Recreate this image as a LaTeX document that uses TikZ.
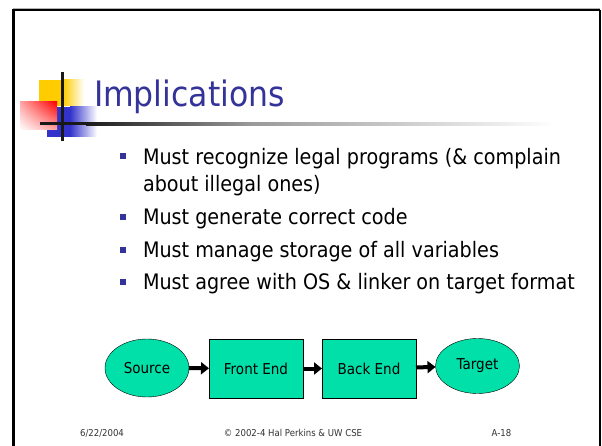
\documentclass[tikz,border=0pt]{standalone}
\usepackage{fontspec}
\setmainfont{DejaVu Sans}[FakeStretch=0.9]
\usetikzlibrary{arrows.meta,shapes.geometric,shadings}
\definecolor{titleblue}{HTML}{333399}
\definecolor{logoyellow}{HTML}{FFCC00}
\definecolor{logoblue}{HTML}{3333CC}
\definecolor{boxgreen}{HTML}{00E0A8}
\definecolor{footgray}{HTML}{333333}
\begin{document}
\begin{tikzpicture}[x = 1pt, y = -1pt,
                    every node/.style = {inner sep = 0pt, outer sep = 0pt},
                    item/.style = {anchor = base west, font = \fontsize{21.3}{25}\selectfont},
                    dot/.style = {fill = titleblue, minimum size = 6pt},
                    oval/.style = {ellipse, draw, fill = boxgreen, minimum width = 84pt, minimum height = 58pt, font = \fontsize{15}{18}\selectfont},
                    stage/.style = {rectangle, draw, fill = boxgreen, minimum width = 94pt, minimum height = 59pt, font = \fontsize{15}{18}\selectfont},
                    flow/.style = {-{Triangle[length = 8pt, width = 12pt]}, line width = 4pt},
                    foot/.style = {font = \fontsize{9.5}{11}\selectfont, text = footgray}]
                    \useasboundingbox (0, 0) rectangle (602, 446);
                    \fill[white] (0, 0) rectangle (602, 446);
                    
                    % frame
                    \draw[gray!60, line width = 1pt] (13, 9) -- (600, 9);
                    \draw[line width = 2pt] (13, 10.5) -- (600, 10.5);
                    \draw[line width = 2.5pt] (13.5, 9) -- (13.5, 446);
                    \draw[line width = 1.2pt] (600, 10) -- (600, 446);
                    
                    % logo
                    \fill[logoyellow] (39, 80) rectangle (63, 106);
                    \shade[left color = logoyellow, right color = white] (63, 80) rectangle (84, 106);
                    \fill[logoblue] (47, 107) rectangle (70, 137);
                    \shade[left color = logoblue, right color = white] (70, 107) rectangle (97, 137);
                    \shade[upper right = red, upper left = red!35!white, lower right = red!35!white, lower left = white] (20, 102) rectangle (57, 130);
                    \fill[black!90] (60.5, 72) rectangle (63.5, 141);
                    \fill[black!90] (40, 122.5) rectangle (86, 125.5);
                    \shade[left color = black!90, right color = black!40] (86, 122.5) rectangle (250, 125.5);
                    \shade[left color = black!40, right color = white] (250, 122.5) rectangle (555, 125.5);
                    
                    \node[anchor = base west, text = titleblue, font = \fontsize{35}{40}\selectfont] (title) at (94, 107) {Implications};
                    
                    \node[dot] (d1) at (123, 156) {};
                    \node[dot] (d2) at (123, 217) {};
                    \node[dot] (d3) at (123, 250) {};
                    \node[dot] (d4) at (123, 282) {};
                    
                    \node[item] (i1) at (143, 164.5) {Must recognize legal programs (\& complain};
                    \node[item] (i1b) at (143, 192) {about illegal ones)};
                    \node[item] (i2) at (143, 225) {Must generate correct code};
                    \node[item] (i3) at (143, 258) {Must manage storage of all variables};
                    \node[item] (i4) at (143, 290) {Must agree with OS \& linker on target format};
                    
                    % pipeline
                    \node[oval] (source) at (147, 368) {Source};
                    \node[stage] (front) at (256, 368.5) {Front End};
                    \node[stage] (back) at (369, 368.5) {Back End};
                    \node[oval, minimum height = 55pt] (target) at (477.5, 366) {Target};
                    
                    \draw[flow] (source) -- (front);
                    \draw[flow] (front) -- (back);
                    \draw[flow] (back) -- (target);
                    
                    % footer
                    \node[foot] (date) at (102, 433) {6/22/2004};
                    \node[foot] (copy) at (293, 433) {© 2002-4 Hal Perkins \& UW CSE};
                    \node[foot] (page) at (501.5, 433) {A-18};
                \end{tikzpicture}
\end{document}
